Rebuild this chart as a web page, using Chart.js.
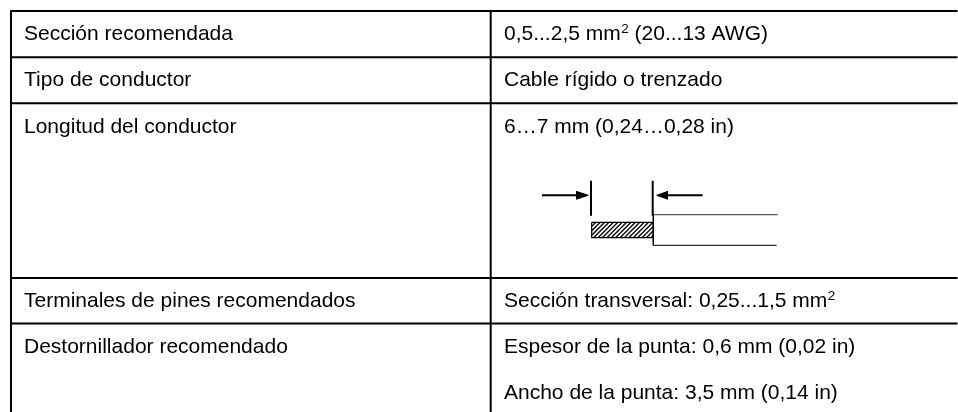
<!DOCTYPE html>
<html>
<head>
<meta charset="utf-8">
<style>
  html, body { margin: 0; padding: 0; background: #fff; }
  #wrap { width: 958px; height: 412px; }
</style>
<script src="https://cdn.jsdelivr.net/npm/chart.js@4"></script>
</head>
<body>
<div id="wrap"><canvas id="spec-table"></canvas></div>
<script>
// table rulings, in picture pixels
const rowLines = [11, 57.3, 103.3, 278, 323.5];
const columnLines = [11, 490.7];
const tableRight = 957.5;
const tableBottom = 412;

// text: [x, baseline y, text, optional superscript, text after it]
const cellTexts = [
  [24, 40, "Sección recomendada"],
  [504, 40, "0,5...2,5 mm", "2", " (20...13 AWG)"],
  [24, 86, "Tipo de conductor"],
  [504, 86, "Cable rígido o trenzado"],
  [24, 132.5, "Longitud del conductor"],
  [504, 132.5, "6…7 mm (0,24…0,28 in)"],
  [24, 306.5, "Terminales de pines recomendados"],
  [504, 306.5, "Sección transversal: 0,25...1,5 mm", "2"],
  [24, 352.5, "Destornillador recomendado"],
  [504, 352.5, "Espesor de la punta: 0,6 mm (0,02 in)"],
  [504, 398.5, "Ancho de la punta: 3,5 mm (0,14 in)"],
];

// wire drawing
const leftTick = [[591, 180.7], [591, 215.7]];
const rightTick = [[652.7, 180.7], [652.7, 215.7]];
const leftArrowShaft = [[542, 195.3], [580, 195.3]];
const rightArrowShaft = [[702.7, 195.3], [664, 195.3]];
const leftHeadUpper = [[576, 191.3], [588.3, 195.3]];
const leftHeadLower = [[576, 199.3], [588.3, 195.3]];
const rightHeadUpper = [[656.7, 195.3], [668, 191.3]];
const rightHeadLower = [[656.7, 195.3], [668, 199.3]];
const stripBox = [[591.7, 222.3], [653.3, 222.3], [653.3, 237.7], [591.7, 237.7], [591.7, 222.3]];
const sheathTop = [[653.3, 214.7], [777.7, 214.7]];
const sheathLeft = [[653.3, 214.7], [653.3, 245.3]];
const sheathBottom = [[653.3, 245.3], [776.7, 245.3]];
const hatchStarts = [576, 580.4, 584.8, 589.2, 593.6, 598, 602.4, 606.8, 611.2, 615.6, 620, 624.4, 628.8, 633.2, 637.6, 642, 646.4, 650.8];
const stripLeft = 591.7;
const stripRight = 653.3;
const stripTop = 222.3;
const stripBottom = 237.7;

const toPoints = (pairs) => pairs.map((p) => ({ x: p[0], y: p[1] }));

const line = (pairs, width, color) => ({
  data: toPoints(pairs),
  borderColor: color || "#000",
  backgroundColor: color || "#000",
  borderWidth: width,
  pointRadius: 0,
  fill: false,
  tension: 0,
});

const datasets = [];

rowLines.forEach((y) => datasets.push(line([[10, y], [tableRight, y]], 2)));
columnLines.forEach((x) => datasets.push(line([[x, 10], [x, tableBottom]], 2)));

[leftTick, rightTick].forEach((t) => datasets.push(line(t, 2)));
[leftArrowShaft, rightArrowShaft].forEach((s) => datasets.push(line(s, 2)));

[[leftHeadUpper, leftHeadLower], [rightHeadUpper, rightHeadLower]].forEach((h) => {
  const upper = line(h[0], 1);
  upper.fill = "+1";
  datasets.push(upper);
  datasets.push(line(h[1], 1));
});

// hatching of the bare conductor, clipped to the strip
const hatchHeight = stripBottom - stripTop;
hatchStarts.forEach((x) => {
  const x0 = Math.max(x, stripLeft);
  const x1 = Math.min(x + hatchHeight, stripRight);
  if (x1 <= x0) return;
  datasets.push(line([[x0, stripBottom - (x0 - x)], [x1, stripBottom - (x1 - x)]], 1.3));
});
datasets.push(line(stripBox, 1.2));
datasets.push(line(sheathTop, 1, "#333"));
datasets.push(line(sheathLeft, 1));
datasets.push(line(sheathBottom, 1));

const tableTextPlugin = {
  id: "tableText",
  afterDatasetsDraw(chart) {
    const { ctx, scales } = chart;
    ctx.save();
    ctx.fillStyle = "#000";
    ctx.textBaseline = "alphabetic";
    cellTexts.forEach((t) => {
      let x = scales.x.getPixelForValue(t[0]);
      const y = scales.y.getPixelForValue(t[1]);
      ctx.font = "21px 'Liberation Sans'";
      ctx.fillText(t[2], x, y);
      x += ctx.measureText(t[2]).width;
      if (t[3]) {
        ctx.font = "13.5px 'Liberation Sans'";
        ctx.fillText(t[3], x + 0.5, y - 7);
        x += ctx.measureText(t[3]).width + 0.5;
      }
      if (t[4]) {
        ctx.font = "21px 'Liberation Sans'";
        ctx.fillText(t[4], x, y);
      }
    });
    ctx.restore();
  },
};

new Chart(document.getElementById("spec-table"), {
  type: "line",
  data: { datasets: datasets },
  plugins: [tableTextPlugin],
  options: {
    responsive: true,
    maintainAspectRatio: false,
    animation: false,
    layout: { padding: 0 },
    plugins: { legend: { display: false }, tooltip: { enabled: false } },
    scales: {
      x: { type: "linear", min: 0, max: 958, display: false },
      y: { type: "linear", min: 0, max: 412, reverse: true, display: false },
    },
  },
});
</script>
</body>
</html>
